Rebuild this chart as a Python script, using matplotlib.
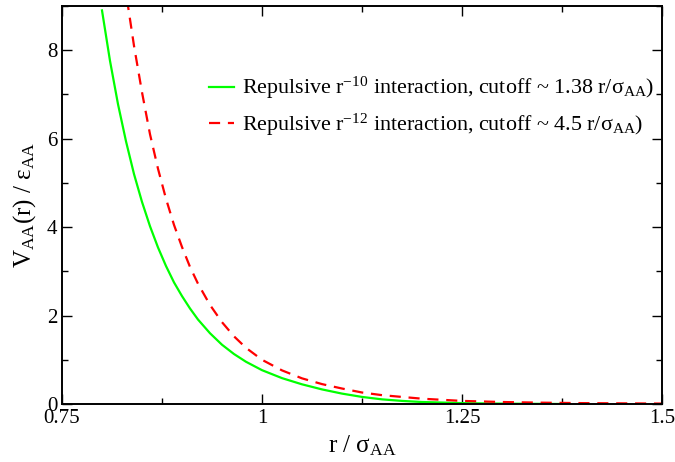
import matplotlib
matplotlib.use('Agg')
import matplotlib.pyplot as plt
from matplotlib.ticker import MultipleLocator

plt.rcParams['font.family'] = ['Liberation Serif', 'DejaVu Serif']
plt.rcParams['mathtext.fontset'] = 'custom'
plt.rcParams['mathtext.rm'] = 'Liberation Serif'
plt.rcParams['mathtext.it'] = 'Liberation Serif:italic'

# values
r10 = [0.800, 0.810, 0.820, 0.830, 0.840, 0.850, 0.860, 0.870, 0.880, 0.890,
       0.900, 0.910, 0.920, 0.935, 0.950, 0.965, 0.980, 1.000, 1.025, 1.050,
       1.075, 1.100, 1.125, 1.150, 1.175, 1.200, 1.250, 1.300, 1.380]
v10 = [8.90, 7.76, 6.78, 5.94, 5.20, 4.57, 4.02, 3.54, 3.12, 2.75,
       2.44, 2.16, 1.91, 1.60, 1.34, 1.13, 0.955, 0.765, 0.585, 0.445,
       0.33, 0.235, 0.16, 0.105, 0.07, 0.045, 0.02, 0.008, 0.0]

r12 = [0.820, 0.8325, 0.840, 0.850, 0.860, 0.870, 0.880, 0.890, 0.900, 0.910,
       0.920, 0.935, 0.950, 0.965, 0.980, 1.000, 1.025, 1.050, 1.075, 1.100,
       1.125, 1.150, 1.200, 1.250, 1.300, 1.350, 1.400, 1.450, 1.500]
v12 = [10.8, 9.00, 8.10, 7.05, 6.10, 5.32, 4.64, 4.05, 3.55, 3.10,
       2.72, 2.24, 1.85, 1.53, 1.27, 1.00, 0.76, 0.58, 0.45, 0.35,
       0.26, 0.20, 0.12, 0.07, 0.045, 0.03, 0.02, 0.015, 0.01]

lab10 = 'Repulsive r$^{-10}$ interaction, cutoff ~ 1.38 r/σ$_{\\rm AA}$)'
lab12 = 'Repulsive r$^{-12}$ interaction, cutoff ~ 4.5 r/σ$_{\\rm AA}$)'

fig = plt.figure(figsize=(6.75, 4.62), dpi=100)
ax = fig.add_axes([62/675, 1 - 404/462, 600/675, 398/462])

ax.plot(r10, v10, color='#00ff00', lw=1.6, label=lab10)
ax.plot(r12, v12, color='#ff0000', lw=1.6, ls=(0, (5, 3.5)), label=lab12)

ax.set_xlim(0.75, 1.5)
ax.set_ylim(0, 9)
ax.xaxis.set_minor_locator(MultipleLocator(0.125))
ax.yaxis.set_major_locator(MultipleLocator(2))
ax.yaxis.set_minor_locator(MultipleLocator(1))
ax.set_xticks([0.75, 1, 1.25, 1.5])
ax.set_xticklabels(['0.75', '1', '1.25', '1.5'])
ax.tick_params(which='both', direction='in', top=True, right=True, labelsize=15)
ax.tick_params(which='major', length=7, width=1)
ax.tick_params(which='minor', length=4.5, width=1)
for s in ax.spines.values():
    s.set_linewidth(1.4)

ax.set_xlabel('r / σ$_{\\rm AA}$', fontsize=18, labelpad=4)
ax.set_ylabel('V$_{\\rm AA}$(r) / ε$_{\\rm AA}$', fontsize=18, labelpad=6)

ax.legend(loc='upper left', bbox_to_anchor=(0.245, 0.826), frameon=False,
          fontsize=15.8, handlelength=1.15, handletextpad=0.35,
          borderaxespad=0, borderpad=0, labelspacing=0.45)

fig.savefig('out.png', dpi=100)
